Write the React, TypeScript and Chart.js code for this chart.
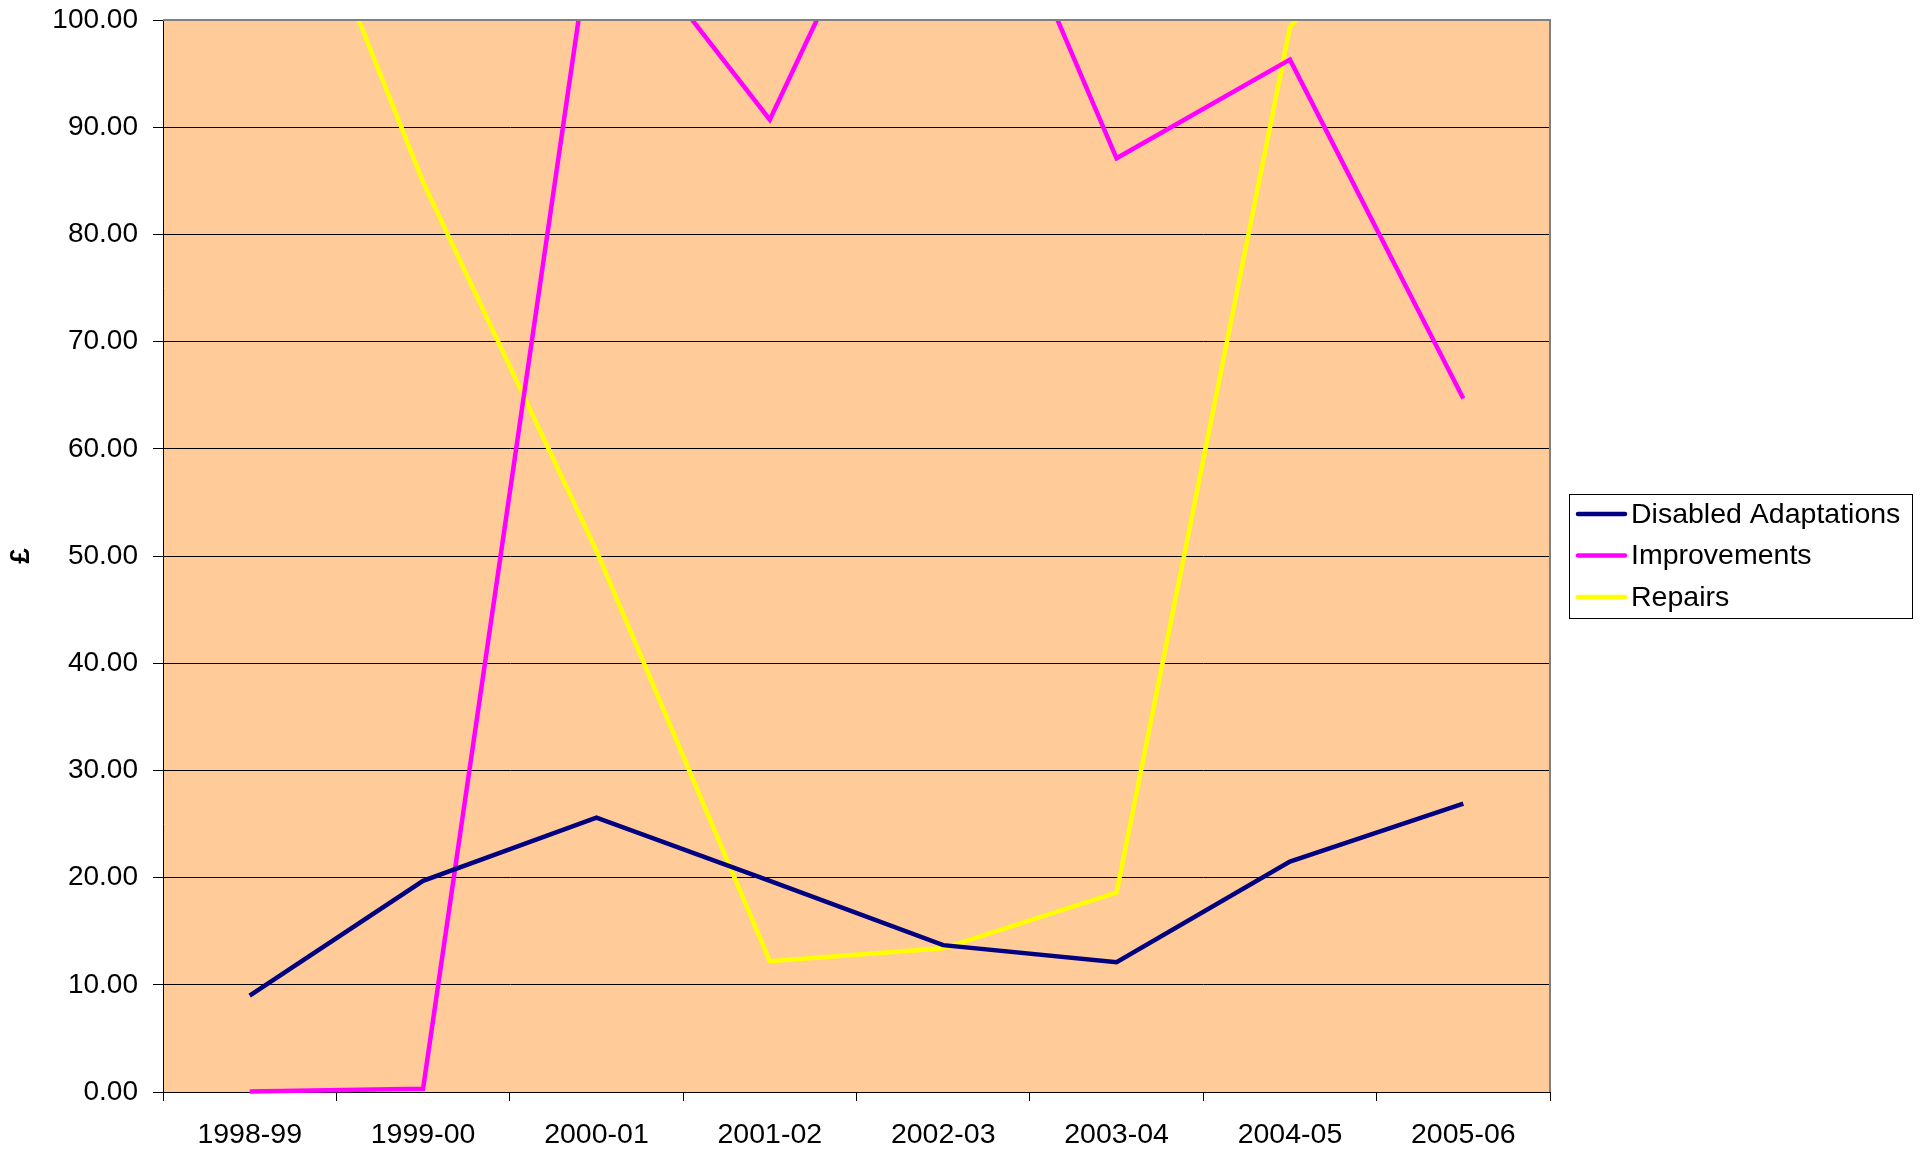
import React, { useEffect, useRef } from "react";
import { Chart, registerables } from "chart.js";

Chart.register(...registerables);

const categories = ["1998-99", "1999-00", "2000-01", "2001-02", "2002-03", "2003-04", "2004-05", "2005-06"];
const disabledAdaptations = [9.0, 19.7, 25.6, 19.7, 13.7, 12.1, 21.5, 26.9];
const improvements = [0.05, 0.3, 111.5, 90.7, 125, 87.1, 96.3, 64.7];
const repairs = [125.6, 84.9, 50.5, 12.2, 13.4, 18.6, 99.3, 120];
const seriesNames = ["Disabled Adaptations", "Improvements", "Repairs"];
const seriesColors = ["#000080", "#FF00FF", "#FFFF00"];
const yMin = 0;
const yMax = 100;
const yStep = 10;

const FONT = "'Liberation Sans', Arial, sans-serif";

const bgPlugin = {
  id: "plotBg",
  beforeDraw(chart: any) {
    const { ctx, chartArea } = chart;
    ctx.save();
    ctx.fillStyle = "#FFCC99";
    ctx.fillRect(chartArea.left, chartArea.top, chartArea.right - chartArea.left, chartArea.bottom - chartArea.top);
    ctx.restore();
  },
  afterDraw(chart: any) {
    const { ctx, chartArea } = chart;
    ctx.save();
    ctx.strokeStyle = "#808080";
    ctx.lineWidth = 2;
    ctx.beginPath();
    ctx.moveTo(chartArea.left, chartArea.top);
    ctx.lineTo(chartArea.right, chartArea.top);
    ctx.lineTo(chartArea.right, chartArea.bottom);
    ctx.stroke();
    // legend
    const bx = 1569, by = 494, bw = 343, bh = 124;
    ctx.fillStyle = "#FFFFFF";
    ctx.fillRect(bx, by, bw, bh);
    ctx.strokeStyle = "#000000";
    ctx.lineWidth = 1;
    ctx.strokeRect(bx + 0.5, by + 0.5, bw, bh);
    ctx.font = `28.5px ${FONT}`;
    ctx.textBaseline = "middle";
    ctx.textAlign = "left";
    chart.data.datasets.forEach((ds: any, i: number) => {
      const y = by + 20 + i * 41.5;
      ctx.strokeStyle = ds.borderColor;
      ctx.lineWidth = 4.5;
      ctx.lineCap = "round";
      ctx.beginPath();
      ctx.moveTo(bx + 9, y);
      ctx.lineTo(bx + 56, y);
      ctx.stroke();
      ctx.fillStyle = "#000000";
      ctx.fillText(ds.label, bx + 62, y + 1);
    });
    ctx.restore();
  },
};

export default function App() {
  const ref = useRef<HTMLCanvasElement>(null);
  useEffect(() => {
    document.body.style.margin = "0";
    const canvas = ref.current!;
    const seriesData = [disabledAdaptations, improvements, repairs];
    const chart = new Chart(canvas, {
      type: "line",
      data: {
        labels: categories,
        datasets: seriesNames.map((name, i) => ({
          label: name,
          data: seriesData[i],
          borderColor: seriesColors[i],
          backgroundColor: seriesColors[i],
          borderWidth: 4.5,
          pointRadius: 0,
          tension: 0,
          fill: false,
          clip: { left: 5, right: 5, top: 0, bottom: 3 } as any,
        })),
      },
      options: {
        responsive: false,
        animation: false,
        devicePixelRatio: 1,
        layout: { padding: { left: 0, top: 20, right: 373, bottom: 0 } },
        plugins: {
          legend: { display: false },
          tooltip: { enabled: false },
        },
        scales: {
          x: {
            type: "category",
            offset: true,
            grid: { offset: true, drawOnChartArea: false, drawTicks: true, tickLength: 9, color: "#000000", lineWidth: 1 },
            border: { display: true, color: "#000000", width: 1 },
            ticks: { color: "#000000", font: { family: FONT, size: 28.5 }, padding: 17, maxRotation: 0, autoSkip: false },
            afterFit: (s: any) => { s.height = 60; s.paddingLeft = 0; s.paddingRight = 0; },
          },
          y: {
            min: yMin,
            max: yMax,
            grid: { color: "#000000", lineWidth: 1, tickLength: 10, drawTicks: true },
            border: { display: true, color: "#000000", width: 1 },
            ticks: {
              stepSize: yStep,
              color: "#000000",
              font: { family: FONT, size: 28 },
              padding: 15,
              callback: (v: any) => Number(v).toFixed(2),
            },
            title: { display: true, text: "£", color: "#000000", font: { family: FONT, size: 28, weight: "bold" }, padding: 4 },
            afterFit: (s: any) => { s.width = 163; s.paddingTop = 0; s.paddingBottom = 0; },
          },
        },
      },
      plugins: [bgPlugin],
    });
    return () => chart.destroy();
  }, []);
  return (
    <div style={{ width: 1923, height: 1152, background: "#fff" }}>
      <canvas ref={ref} width={1923} height={1152} style={{ display: "block", width: 1923, height: 1152 }} />
    </div>
  );
}
